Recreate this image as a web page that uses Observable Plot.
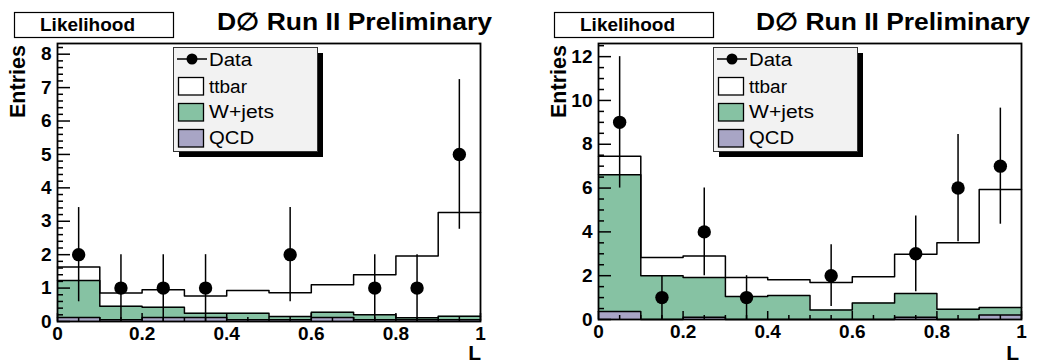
<!DOCTYPE html>
<html>
<head>
<meta charset="utf-8">
<script src="https://cdn.jsdelivr.net/npm/d3@7"></script>
<script src="https://cdn.jsdelivr.net/npm/@observablehq/plot@0.6"></script>
<style>
  html, body { margin: 0; padding: 0; background: white; overflow: hidden; }
  #wrap { position: relative; width: 1038px; height: 364px; }
  .panel { position: absolute; top: 0; width: 519px; height: 364px; }
  .panel svg.ov { position: absolute; left: 0; top: 0; pointer-events: none; }
  .panel > svg:first-child { display: block; }
</style>
</head>
<body>
<div id="wrap"></div>
<script>
// ---- shared ----
const binEdges = [0, 0.1, 0.2, 0.3, 0.4, 0.5, 0.6, 0.7, 0.8, 0.9, 1.0];
const xMajorTicks = [0, 0.2, 0.4, 0.6, 0.8, 1];
const xTickLabels = ["0", "0.2", "0.4", "0.6", "0.8", "1"];
const xMinorTicks = [0.05,0.1,0.15,0.25,0.3,0.35,0.45,0.5,0.55,0.65,0.7,0.75,0.85,0.9,0.95];
const legendLabels = ["Data", "ttbar", "W+jets", "QCD"];
const titleText = "D\u2205 Run II Preliminary";
const boxText = "Likelihood";
const yTitle = "Entries";
const xTitle = "L";

// ---- left panel ----
const leftData   = [2, 1, 1, 1, null, 2, null, 1, 1, 5];
const leftErr    = [1.41, 1, 1, 1, null, 1.41, null, 1, 1, 2.24];
const leftTtbar  = [0.40, 0.39, 0.52, 0.51, 0.68, 0.71, 0.82, 1.20, 1.85, 3.10];
const leftWjets  = [1.11, 0.41, 0.31, 0.13, 0.20, 0.10, 0.16, 0.15, 0.06, 0.11];
const leftQcd    = [0.12, 0.05, 0.12, 0.12, 0.05, 0.05, 0.12, 0.05, 0.05, 0.05];
const leftYMajor = [0, 1, 2, 3, 4, 5, 6, 7, 8];
const leftYMinor = [0.2,0.4,0.6,0.8,1.2,1.4,1.6,1.8,2.2,2.4,2.6,2.8,3.2,3.4,3.6,3.8,4.2,4.4,4.6,4.8,5.2,5.4,5.6,5.8,6.2,6.4,6.6,6.8,7.2,7.4,7.6,7.8,8.2];

// ---- right panel ----
const rightData   = [9, 1, 4, 1, null, 2, null, 3, 6, 7];
const rightErr    = [3, 1, 2, 1, null, 1.41, null, 1.73, 2.45, 2.65];
const rightTtbar  = [0.84, 0.83, 0.98, 0.87, 0.73, 1.26, 1.20, 1.79, 3.03, 5.38];
const rightWjets  = [6.24, 2.00, 1.82, 1.05, 1.09, 0.43, 0.75, 1.09, 0.47, 0.35];
const rightQcd    = [0.37, 0, 0.10, 0, 0, 0, 0, 0.10, 0, 0.20];
const rightYMajor = [0, 2, 4, 6, 8, 10, 12];
const rightYMinor = [0.5,1,1.5,2.5,3,3.5,4.5,5,5.5,6.5,7,7.5,8.5,9,9.5,10.5,11,11.5,12.5];

const GREEN = "#86c2a3";
const PURPLE = "#a8a5c5";
const FONT = "'Liberation Sans', Arial, Helvetica, sans-serif";

function makePlot(p) {
  const W = 519, H = 364, MT = 43;
  const fw = W - p.ml - p.mr, fh = H - MT - p.mb;
  const rows = p.ttbar.map((t, i) => {
    const q = p.qcd[i], w = p.wjets[i];
    return {x1: binEdges[i], x2: binEdges[i + 1], xc: (binEdges[i] + binEdges[i + 1]) / 2,
            qcd: q, qw: q + w, total: q + w + t, n: p.data[i], err: p.err[i]};
  });
  const step = key => [
    ...rows.map(r => ({x: r.x1, y: r[key], b: 0})),
    {x: binEdges[binEdges.length - 1], y: rows[rows.length - 1][key], b: 0}
  ];
  const pts = rows.filter(r => r.n != null);
  const lineOpts = {x: "x", y: "y", curve: "step-after", stroke: "black", strokeWidth: 1.5};
  const x0 = 0, x1 = 1, y0 = 0, y1 = p.ymax;
  return Plot.plot({
    width: W, height: H,
    marginLeft: p.ml, marginRight: p.mr, marginTop: MT, marginBottom: p.mb,
    x: {domain: [x0, x1], label: null},
    y: {domain: [y0, y1], label: null},
    style: {fontFamily: FONT, fontSize: "19px", fontWeight: "bold", color: "black", background: "transparent"},
    marks: [
      Plot.areaY(step("qw"), {x: "x", y1: "b", y2: "y", curve: "step-after", fill: GREEN}),
      Plot.areaY(step("qcd"), {x: "x", y1: "b", y2: "y", curve: "step-after", fill: PURPLE}),
      Plot.line(step("total"), lineOpts),
      Plot.line(step("qw"), lineOpts),
      Plot.line(step("qcd"), lineOpts),
      // inward ticks on the y axis
      Plot.ruleY(p.yMajor, {y: d => d, x1: x0, x2: x1, insetRight: fw - 13, stroke: "black", strokeWidth: 1.5}),
      Plot.ruleY(p.yMinor, {y: d => d, x1: x0, x2: x1, insetRight: fw - 6, stroke: "black", strokeWidth: 1.5}),
      // inward ticks on the x axis (y1 = top, y2 = bottom so insetTop trims from the top)
      Plot.ruleX(xMajorTicks, {x: d => d, y1: y1, y2: y0, insetTop: fh - 8, stroke: "black", strokeWidth: 1.5}),
      Plot.ruleX(xMinorTicks, {x: d => d, y1: y1, y2: y0, insetTop: fh - 4, stroke: "black", strokeWidth: 1.5}),
      Plot.axisY({ticks: p.yMajor, tickSize: 0, tickPadding: 6, tickFormat: d => String(d), label: null}),
      Plot.axisX({ticks: xMajorTicks, tickSize: 0, tickPadding: 5, tickFormat: (d, i) => xTickLabels[i], label: null}),
      Plot.ruleX(pts, {x: "xc", y1: d => d.n - d.err, y2: d => d.n + d.err, stroke: "black", strokeWidth: 1.5}),
      Plot.dot(pts, {x: "xc", y: "n", r: 6.7, fill: "black", stroke: "none"}),
      Plot.frame({stroke: "black", strokeWidth: 1.8})
    ]
  });
}

function overlay(o) {
  const lx = o.legX, ly = 47;
  const swFill = ["white", GREEN, PURPLE];
  const textLens = [43, 38, 65, 45];
  let s = `<svg class="ov" width="519" height="364" xmlns="http://www.w3.org/2000/svg" font-family="${FONT}">`;
  s += `<rect x="${o.boxX + 0.5}" y="12.5" width="159" height="25" fill="white" stroke="black" stroke-width="1.2"/>`;
  s += `<text x="${o.boxX + 26}" y="31" font-size="18" font-weight="bold" textLength="95" lengthAdjust="spacingAndGlyphs">${boxText}</text>`;
  s += `<text x="${o.titleX}" y="30" font-size="24" font-weight="bold" textLength="${o.titleW}" lengthAdjust="spacingAndGlyphs">${titleText}</text>`;
  s += `<text transform="translate(${o.entX},45) rotate(-90)" text-anchor="end" font-size="22" font-weight="bold" textLength="73" lengthAdjust="spacingAndGlyphs">${yTitle}</text>`;
  s += `<text x="${o.lX}" y="360" text-anchor="end" font-size="21" font-weight="bold">${xTitle}</text>`;
  s += `<rect x="${lx + 6}" y="${ly + 6}" width="144" height="104" fill="black"/>`;
  s += `<rect x="${lx + 0.5}" y="${ly + 0.5}" width="144" height="104" fill="#f2f2f2" stroke="#333" stroke-width="1"/>`;
  s += `<line x1="${lx + 4}" x2="${lx + 34}" y1="59" y2="59" stroke="black" stroke-width="1.5"/>`;
  s += `<circle cx="${lx + 19}" cy="59" r="5.5" fill="black"/>`;
  const baselines = [66, 93, 118, 144];
  const swTop = [77.5, 103.5, 129.5];
  for (let i = 0; i < 3; i++) {
    s += `<rect x="${lx + 5.5}" y="${swTop[i]}" width="25" height="17.5" fill="${swFill[i]}" stroke="black" stroke-width="1.3"/>`;
  }
  for (let i = 0; i < 4; i++) {
    s += `<text x="${lx + 36}" y="${baselines[i]}" font-size="18" textLength="${textLens[i]}" lengthAdjust="spacingAndGlyphs">${legendLabels[i]}</text>`;
  }
  s += `</svg>`;
  return s;
}

const panels = [
  {left: 0, ml: 57, mr: 39, mb: 43, ymax: 8.32,
   data: leftData, err: leftErr, ttbar: leftTtbar, wjets: leftWjets, qcd: leftQcd,
   yMajor: leftYMajor, yMinor: leftYMinor,
   ov: {boxX: 14, titleX: 217, titleW: 275, entX: 25, lX: 481, legX: 173}},
  {left: 519, ml: 79, mr: 17, mb: 45, ymax: 12.6,
   data: rightData, err: rightErr, ttbar: rightTtbar, wjets: rightWjets, qcd: rightQcd,
   yMajor: rightYMajor, yMinor: rightYMinor,
   ov: {boxX: 35, titleX: 237, titleW: 274, entX: 47, lX: 500, legX: 194}}
];

const wrap = document.getElementById("wrap");
for (const p of panels) {
  const div = document.createElement("div");
  div.className = "panel";
  div.style.left = p.left + "px";
  div.appendChild(makePlot(p));
  div.insertAdjacentHTML("beforeend", overlay(p.ov));
  wrap.appendChild(div);
}
</script>
</body>
</html>
